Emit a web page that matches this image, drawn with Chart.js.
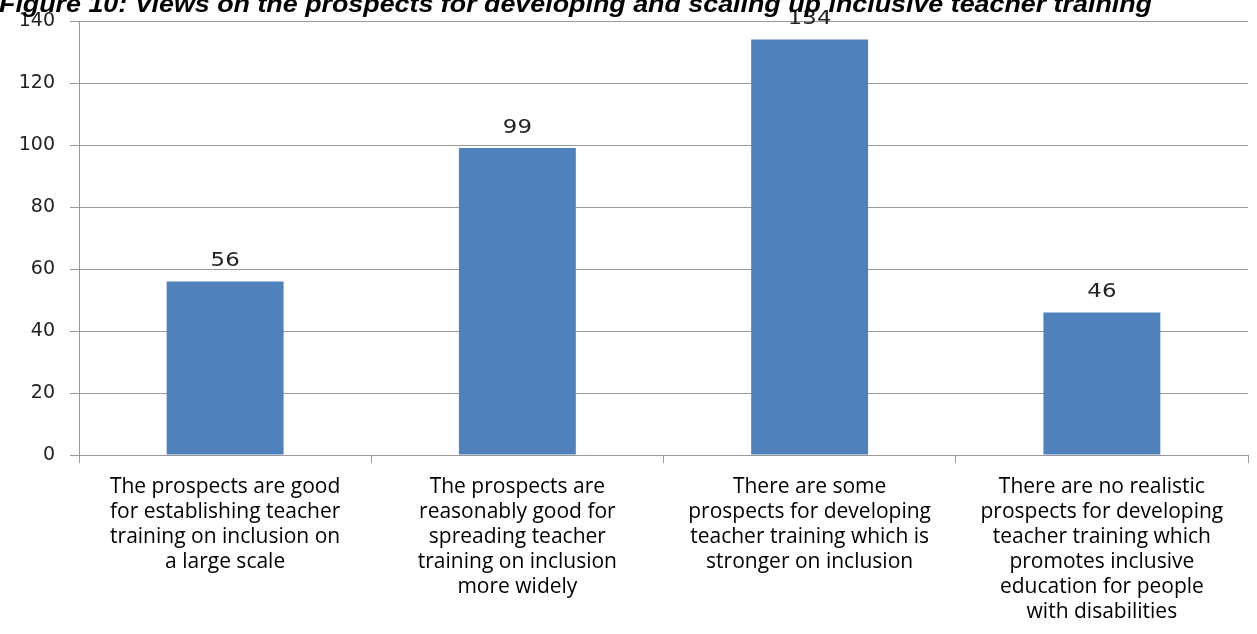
<!DOCTYPE html>
<html><head><meta charset="utf-8">
<script src="https://cdn.jsdelivr.net/npm/chart.js@4"></script>
<style>html,body{margin:0;padding:0;background:#fff;}#wrap{width:1257px;height:634px;position:relative;}</style>
</head><body><div id="wrap"><canvas id="c" width="1257" height="634"></canvas></div>
<script>
const titleText = "Figure 10: Views on the prospects for developing and scaling up inclusive teacher training";
const categories = [
  ["The prospects are good","for establishing teacher","training on inclusion on","a large scale"],
  ["The prospects are","reasonably good for","spreading teacher","training on inclusion","more widely"],
  ["There are some","prospects for developing","teacher training which is","stronger on inclusion"],
  ["There are no realistic","prospects for developing","teacher training which","promotes inclusive","education for people","with disabilities"]
];
const values = [56, 99, 134, 46];
const yTicks = [0, 20, 40, 60, 80, 100, 120, 140];

const titlePlugin = {
  id: 'titleP',
  afterDraw(chart) {
    const ctx = chart.ctx;
    ctx.save();
    ctx.font = 'italic bold 24px "Liberation Sans", Arial, sans-serif';
    ctx.fillStyle = '#000';
    ctx.textAlign = 'left';
    ctx.textBaseline = 'alphabetic';
    const w = ctx.measureText(titleText).width;
    const sx = 1153 / w;
    ctx.translate(-1, 12);
    ctx.scale(sx, 1);
    ctx.fillText(titleText, 0, 0);
    ctx.restore();
  }
};
const labelPlugin = {
  id: 'vals',
  afterDatasetsDraw(chart) {
    const ctx = chart.ctx;
    const meta = chart.getDatasetMeta(0);
    ctx.save();
    ctx.font = '19px "DejaVu Sans", sans-serif';
    ctx.fillStyle = '#222';
    ctx.textAlign = 'center';
    ctx.textBaseline = 'bottom';
    meta.data.forEach((bar, i) => {
      ctx.save();
      ctx.translate(bar.x, bar.y - 11);
      ctx.scale(1.2, 1);
      ctx.fillText(String(values[i]), 0, 0);
      ctx.restore();
    });
    ctx.restore();
  }
};

new Chart(document.getElementById('c'), {
  type: 'bar',
  data: { labels: categories, datasets: [{ data: values, backgroundColor: '#4F81BD', borderWidth: 0, categoryPercentage: 0.4, barPercentage: 1.0 }] },
  options: {
    responsive: false, animation: false,
    layout: { padding: { top: 21, right: 9, left: 0, bottom: 0 } },
    plugins: { legend: { display: false }, tooltip: { enabled: false }, title: { display: false } },
    scales: {
      x: {
        grid: { display: true, offset: true, drawOnChartArea: false, color: '#999', tickLength: 8 },
        border: { color: '#999', width: 1 },
        ticks: { color: '#000', font: { family: '"Open Sans", sans-serif', size: 21, lineHeight: 1.19 }, padding: 12, maxRotation: 0, autoSkip: false },
        afterFit(s) { s.height = 634 - 455; s.paddingLeft = 0; s.paddingRight = 0; }
      },
      y: {
        min: 0, max: 140,
        afterBuildTicks(s) { s.ticks = yTicks.map(v => ({ value: v })); },
        grid: { color: '#999', tickLength: 9 },
        border: { color: '#999', width: 1 },
        ticks: { color: '#222', font: { family: '"DejaVu Sans", sans-serif', size: 19 }, padding: 15 },
        afterFit(s) { s.width = 79; s.paddingTop = 0; s.paddingBottom = 0; }
      }
    }
  },
  plugins: [titlePlugin, labelPlugin]
});
</script></body></html>
